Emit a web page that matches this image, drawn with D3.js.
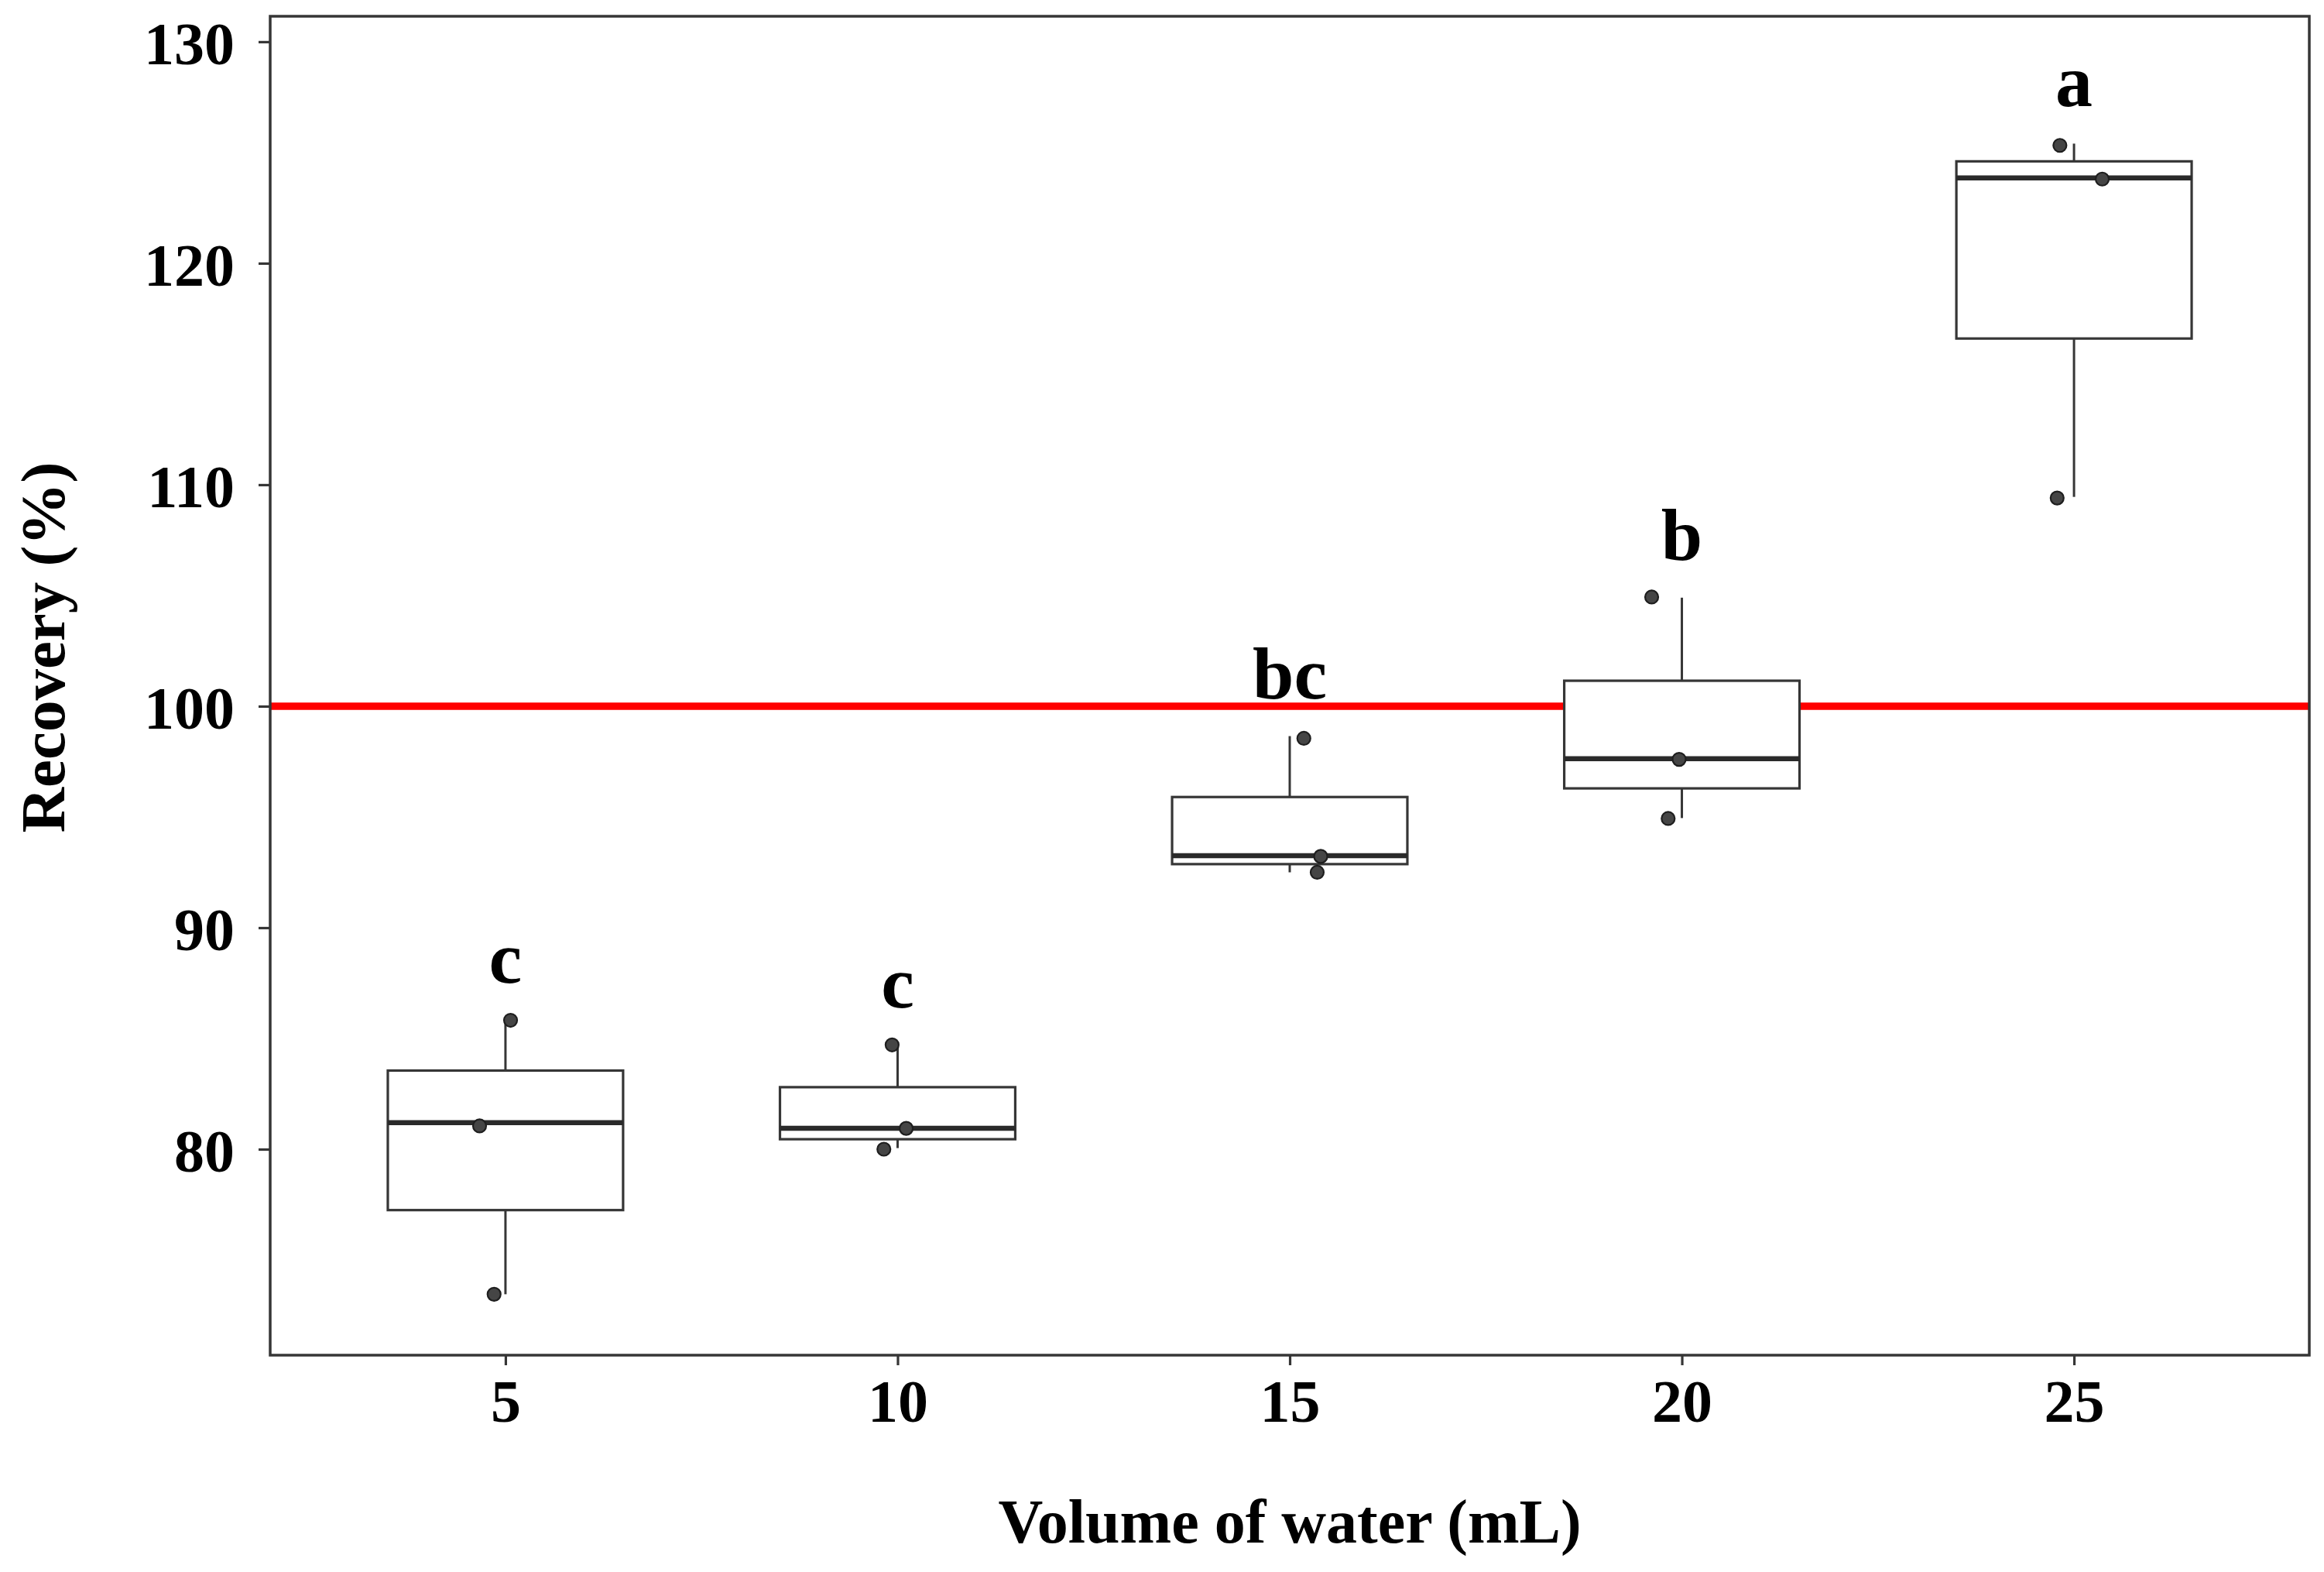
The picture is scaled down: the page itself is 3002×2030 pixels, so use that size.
<!DOCTYPE html>
<html>
<head>
<meta charset="utf-8">
<script src="https://cdn.jsdelivr.net/npm/d3@7"></script>
<style>
  html, body { margin: 0; padding: 0; background: #ffffff; }
  svg { display: block; }
  text { font-family: "Liberation Serif", "Times New Roman", serif; font-weight: bold; fill: #000; }
</style>
</head>
<body>
<svg id="chart" width="3002" height="2030"></svg>
<script>
// ---- data ----
const categories = ["5", "10", "15", "20", "25"];
const whiskerLow  = [73.45, 80.05, 92.50, 94.95, 109.45];
const q1          = [77.25, 80.45, 92.87, 96.29, 116.60];
const median      = [81.20, 80.94, 93.25, 97.63, 123.85];
const q3          = [83.55, 82.80, 95.90, 101.15, 124.60];
const whiskerHigh = [85.82, 84.71, 98.65, 104.90, 125.40];
const letters     = ["c", "c", "bc", "b", "a"];
// individual observations (3 per group) and their horizontal jitter (category units)
const obsGroup  = ["5","5","5","10","10","10","15","15","15","20","20","20","25","25","25"];
const obsValue  = [85.82, 81.05, 73.45, 84.71, 80.94, 80.00, 98.55, 93.22, 92.50, 104.93, 97.60, 94.93, 125.32, 123.80, 109.40];
const obsJitter = [0.013, -0.066, -0.029, -0.014, 0.022, -0.035, 0.036, 0.079, 0.070, -0.077, -0.007, -0.035, -0.036, 0.072, -0.043];
const yTicks = [80, 90, 100, 110, 120, 130];
const refLine = 100;
const xTitle = "Volume of water (mL)";
const yTitle = "Recovery (%)";

// ---- layout ----
const L = 349, R = 2983, T = 21, B = 1750;
const svg = d3.select("#chart");
const x = d3.scalePoint().domain(categories).range([L, R]).padding(0.6);
const y = d3.scaleLinear().domain([70.7, 131.15]).range([B, T]);
const step = x.step();
const boxW = step * 0.6;
const lineCol = "#363636";

// reference line
svg.append("line")
  .attr("x1", L).attr("x2", R)
  .attr("y1", y(refLine)).attr("y2", y(refLine))
  .attr("stroke", "#ff0000").attr("stroke-width", 9.5);

// boxes
const boxes = categories.map((c, i) => ({c, lo: whiskerLow[i], q1: q1[i], med: median[i], q3: q3[i], hi: whiskerHigh[i], letter: letters[i]}));
const g = svg.append("g");
const bx = g.selectAll("g.box").data(boxes).join("g").attr("class", "box");
bx.append("line")
  .attr("x1", d => x(d.c)).attr("x2", d => x(d.c))
  .attr("y1", d => y(d.q3)).attr("y2", d => y(d.hi))
  .attr("stroke", lineCol).attr("stroke-width", 3);
bx.append("line")
  .attr("x1", d => x(d.c)).attr("x2", d => x(d.c))
  .attr("y1", d => y(d.q1)).attr("y2", d => y(d.lo))
  .attr("stroke", lineCol).attr("stroke-width", 3);
bx.append("rect")
  .attr("x", d => x(d.c) - boxW / 2).attr("width", boxW)
  .attr("y", d => y(d.q3)).attr("height", d => y(d.q1) - y(d.q3))
  .attr("fill", "#ffffff").attr("stroke", lineCol).attr("stroke-width", 3.2);
bx.append("line")
  .attr("x1", d => x(d.c) - boxW / 2).attr("x2", d => x(d.c) + boxW / 2)
  .attr("y1", d => y(d.med)).attr("y2", d => y(d.med))
  .attr("stroke", "#2a2a2a").attr("stroke-width", 6.5);

// observations
const obs = obsValue.map((v, i) => ({c: obsGroup[i], v, j: obsJitter[i]}));
svg.append("g").selectAll("circle").data(obs).join("circle")
  .attr("cx", d => x(d.c) + d.j * step)
  .attr("cy", d => y(d.v))
  .attr("r", 8.5)
  .attr("fill", "#454545").attr("stroke", "#1e1e1e").attr("stroke-width", 2.2);

// significance letters
svg.append("g").selectAll("text").data(boxes).join("text")
  .attr("x", d => x(d.c)).attr("y", d => y(d.hi + 1.7))
  .attr("text-anchor", "middle")
  .attr("font-size", 96)
  .text(d => d.letter);

// axes
const yAxis = svg.append("g").attr("transform", `translate(${L},0)`)
  .call(d3.axisLeft(y).tickValues(yTicks).tickSize(15).tickPadding(31).tickFormat(d3.format("d")));
const xAxis = svg.append("g").attr("transform", `translate(0,${B})`)
  .call(d3.axisBottom(x).tickSize(13).tickPadding(18));
[yAxis, xAxis].forEach(a => {
  a.select(".domain").remove();
  a.selectAll(".tick line").attr("stroke", lineCol).attr("stroke-width", 3.2);
  a.selectAll(".tick text").attr("font-size", 78).attr("font-family", null).attr("fill", "#000");
});
yAxis.selectAll(".tick text").attr("dy", "0.37em");
xAxis.selectAll(".tick text").attr("dy", "0.71em");

// panel frame
svg.append("rect")
  .attr("x", L).attr("y", T).attr("width", R - L).attr("height", B - T)
  .attr("fill", "none").attr("stroke", lineCol).attr("stroke-width", 3.5);

// titles
svg.append("text")
  .attr("x", (L + R) / 2).attr("y", 1992)
  .attr("text-anchor", "middle").attr("font-size", 80)
  .text(xTitle);
svg.append("text")
  .attr("transform", "translate(83,836) rotate(-90)")
  .attr("text-anchor", "middle").attr("font-size", 81)
  .text(yTitle);
</script>
</body>
</html>
